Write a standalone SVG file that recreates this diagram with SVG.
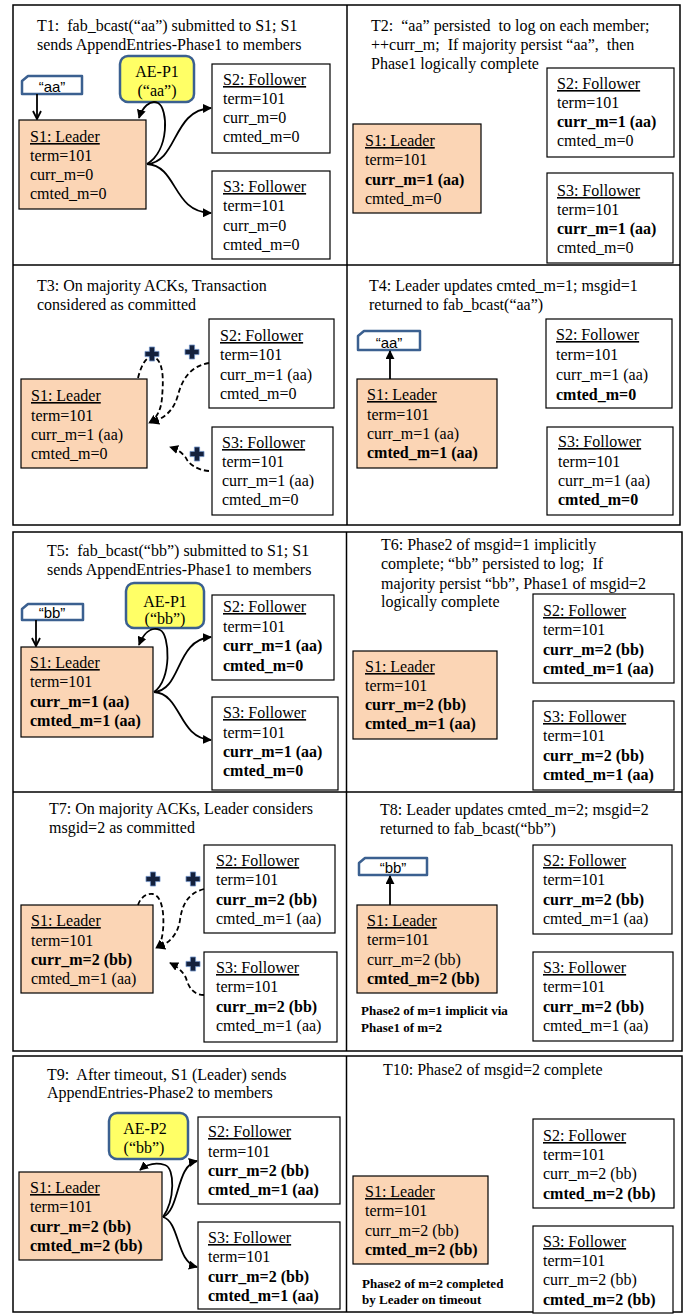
<svg xmlns="http://www.w3.org/2000/svg" width="688" height="1314" viewBox="0 0 688 1314">
<style>
  text { font-family: "Liberation Serif", "Times New Roman", serif; font-size: 16px; fill: #000; }
  .b { font-weight: bold; }
  .u { text-decoration: underline; }
  .c { text-anchor: middle; }
  .note { font-size: 13px; font-weight: bold; }
  .tagtxt { font-family: "Liberation Sans", Arial, sans-serif; font-size: 15px; text-anchor: middle; }
  .frame { fill: none; stroke: #000; stroke-width: 1.5; }
  .ldr { fill: #FBD5B5; stroke: #000; stroke-width: 1.2; }
  .fol { fill: #fff; stroke: #000; stroke-width: 1.2; }
  .msg { fill: #FFFF66; stroke: #3B6090; stroke-width: 2.5; }
  .tag { fill: #fff; stroke: #3B6090; stroke-width: 2.5; stroke-linejoin: round; }
  .conn { fill: none; stroke: #000; stroke-width: 1.8; }
  .dash { stroke-dasharray: 5 3; }
  .ack { fill: #14213d; stroke: #6d8fc4; stroke-width: 0.8; }
</style>
<defs>
  <marker id="ah" viewBox="0 0 10 10" refX="9" refY="5" markerWidth="9" markerHeight="9" markerUnits="userSpaceOnUse" orient="auto">
    <path d="M0,0 L10,5 L0,10 z" fill="#000"/>
  </marker>
  <marker id="av" viewBox="0 0 10 10" refX="9" refY="5" markerWidth="10" markerHeight="10" markerUnits="userSpaceOnUse" orient="auto">
    <path d="M1,1 L9,5 L1,9" fill="none" stroke="#000" stroke-width="1.8"/>
  </marker>
  <!-- ACK marker: a bold plus sign -->
  <path id="plus" class="ack" d="M-2.6,-7 h5.2 v4.4 h4.4 v5.2 h-4.4 v4.4 h-5.2 v-4.4 h-4.4 v-5.2 h4.4 z"/>
</defs>

<rect width="688" height="1314" fill="#fff"/>

<!-- panel frames -->
<g id="frames">
  <rect class="frame" x="13" y="5" width="667" height="520"/>
  <line class="frame" x1="347" y1="5" x2="347" y2="525"/>
  <line class="frame" x1="13" y1="265" x2="680" y2="265"/>
  <rect class="frame" x="13" y="532" width="669" height="519"/>
  <line class="frame" x1="346.5" y1="532" x2="346.5" y2="1051"/>
  <line class="frame" x1="13" y1="792" x2="682" y2="792"/>
  <rect class="frame" x="13" y="1056" width="669" height="256"/>
  <line class="frame" x1="346.5" y1="1056" x2="346.5" y2="1312"/>
</g>

<!-- step captions -->
<g id="captions">
  <text x="37" y="31" xml:space="preserve">T1:  fab_bcast(“aa”) submitted to S1; S1</text>
  <text x="37" y="50">sends AppendEntries-Phase1 to members</text>
  <text x="371" y="31" xml:space="preserve">T2:  “aa” persisted  to log on each member;</text>
  <text x="371" y="50" xml:space="preserve">++curr_m;  If majority persist “aa”,  then</text>
  <text x="371" y="69">Phase1 logically complete</text>
  <text x="37" y="291">T3: On majority ACKs, Transaction</text>
  <text x="37" y="310">considered as committed</text>
  <text x="369" y="291">T4: Leader updates cmted_m=1; msgid=1</text>
  <text x="369" y="310">returned to fab_bcast(“aa”)</text>
  <text x="47" y="556" xml:space="preserve">T5:  fab_bcast(“bb”) submitted to S1; S1</text>
  <text x="47" y="575">sends AppendEntries-Phase1 to members</text>
  <text x="381" y="550">T6: Phase2 of msgid=1 implicitly</text>
  <text x="381" y="569" xml:space="preserve">complete; “bb” persisted to log;  If</text>
  <text x="381" y="589">majority persist “bb”, Phase1 of msgid=2</text>
  <text x="381" y="607">logically complete</text>
  <text x="49" y="814">T7: On majority ACKs, Leader considers</text>
  <text x="49" y="833">msgid=2 as committed</text>
  <text x="380" y="815">T8: Leader updates cmted_m=2; msgid=2</text>
  <text x="380" y="834">returned to fab_bcast(“bb”)</text>
  <text x="47" y="1080" xml:space="preserve">T9:  After timeout, S1 (Leader) sends</text>
  <text x="47" y="1098">AppendEntries-Phase2 to members</text>
  <text x="383" y="1075">T10: Phase2 of msgid=2 complete</text>
  <text class="note" x="361" y="1015">Phase2 of m=1 implicit via</text>
  <text class="note" x="361" y="1032">Phase1 of m=2</text>
  <text class="note" x="362" y="1288">Phase2 of m=2 completed</text>
  <text class="note" x="362" y="1304">by Leader on timeout</text>
</g>

<!-- T1 -->
<g id="t1-tag"><path class="tag" d="M22,81 L28,76 H82 V94 H22 Z"/><text class="tagtxt" x="52" y="92">“aa”</text></g>
<g id="t1-msg"><rect class="msg" x="120" y="56" width="74" height="46" rx="8"/><text class="c" x="157" y="77">AE-P1</text><text class="c" x="157" y="96">(“aa”)</text></g>
<g id="t1-s1"><rect class="ldr" x="19" y="120" width="127" height="89"/>
  <text x="30" y="142" class="u">S1: Leader</text><text x="30" y="161">term=101</text><text x="30" y="180">curr_m=0</text><text x="30" y="199">cmted_m=0</text></g>
<g id="t1-s2"><rect class="fol" x="212" y="64" width="118" height="89"/>
  <text x="223" y="85" class="u">S2: Follower</text><text x="223" y="104">term=101</text><text x="223" y="123">curr_m=0</text><text x="223" y="142">cmted_m=0</text></g>
<g id="t1-s3"><rect class="fol" x="212" y="171" width="118" height="88"/>
  <text x="223" y="192" class="u">S3: Follower</text><text x="223" y="211">term=101</text><text x="223" y="231">curr_m=0</text><text x="223" y="250">cmted_m=0</text></g>

<!-- T2 -->
<g id="t2-s1"><rect class="ldr" x="353" y="124" width="128" height="89"/>
  <text x="365" y="146" class="u">S1: Leader</text><text x="365" y="165">term=101</text><text x="365" y="185" class="b">curr_m=1 (aa)</text><text x="365" y="204">cmted_m=0</text></g>
<g id="t2-s2"><rect class="fol" x="547" y="68" width="127" height="89"/>
  <text x="557" y="89" class="u">S2: Follower</text><text x="557" y="108">term=101</text><text x="557" y="127" class="b">curr_m=1 (aa)</text><text x="557" y="146">cmted_m=0</text></g>
<g id="t2-s3"><rect class="fol" x="547" y="173" width="126" height="90"/>
  <text x="557" y="196" class="u">S3: Follower</text><text x="557" y="215">term=101</text><text x="557" y="234" class="b">curr_m=1 (aa)</text><text x="557" y="253">cmted_m=0</text></g>

<!-- T3 -->
<g id="t3-s1"><rect class="ldr" x="21" y="379" width="126" height="89"/>
  <text x="31" y="401" class="u">S1: Leader</text><text x="31" y="421">term=101</text><text x="31" y="440">curr_m=1 (aa)</text><text x="31" y="459">cmted_m=0</text></g>
<g id="t3-s2"><rect class="fol" x="209" y="319" width="125" height="89"/>
  <text x="220" y="341" class="u">S2: Follower</text><text x="220" y="360">term=101</text><text x="220" y="380">curr_m=1 (aa)</text><text x="220" y="399">cmted_m=0</text></g>
<g id="t3-s3"><rect class="fol" x="212" y="427" width="121" height="88"/>
  <text x="222" y="448" class="u">S3: Follower</text><text x="222" y="467">term=101</text><text x="222" y="486">curr_m=1 (aa)</text><text x="222" y="505">cmted_m=0</text></g>

<!-- T4 -->
<g id="t4-tag"><path class="tag" d="M358,336 L364,331 H420 V350 H358 Z"/><text class="tagtxt" x="389" y="348">“aa”</text></g>
<g id="t4-s1"><rect class="ldr" x="357" y="379" width="140" height="89"/>
  <text x="367" y="400" class="u">S1: Leader</text><text x="367" y="420">term=101</text><text x="367" y="439">curr_m=1 (aa)</text><text x="367" y="458" class="b">cmted_m=1 (aa)</text></g>
<g id="t4-s2"><rect class="fol" x="546" y="319" width="126" height="89"/>
  <text x="556" y="340" class="u">S2: Follower</text><text x="556" y="360">term=101</text><text x="556" y="380">curr_m=1 (aa)</text><text x="556" y="400" class="b">cmted_m=0</text></g>
<g id="t4-s3"><rect class="fol" x="547" y="427" width="126" height="88"/>
  <text x="558" y="447" class="u">S3: Follower</text><text x="558" y="467">term=101</text><text x="558" y="486">curr_m=1 (aa)</text><text x="558" y="505" class="b">cmted_m=0</text></g>

<!-- T5 -->
<g id="t5-tag"><path class="tag" d="M22,609 L28,604 H83 V620 H22 Z"/><text class="tagtxt" x="52" y="618">“bb”</text></g>
<g id="t5-msg"><rect class="msg" x="126" y="583" width="78" height="45" rx="8"/><text class="c" x="165" y="607">AE-P1</text><text class="c" x="165" y="624">(“bb”)</text></g>
<g id="t5-s1"><rect class="ldr" x="21" y="647" width="132" height="90"/>
  <text x="30" y="668" class="u">S1: Leader</text><text x="30" y="687">term=101</text><text x="30" y="707" class="b">curr_m=1 (aa)</text><text x="30" y="726" class="b">cmted_m=1 (aa)</text></g>
<g id="t5-s2"><rect class="fol" x="212" y="595" width="122" height="85"/>
  <text x="223" y="612" class="u">S2: Follower</text><text x="223" y="632">term=101</text><text x="223" y="651" class="b">curr_m=1 (aa)</text><text x="223" y="671" class="b">cmted_m=0</text></g>
<g id="t5-s3"><rect class="fol" x="212" y="697" width="126" height="93"/>
  <text x="223" y="718" class="u">S3: Follower</text><text x="223" y="738">term=101</text><text x="223" y="757" class="b">curr_m=1 (aa)</text><text x="223" y="776" class="b">cmted_m=0</text></g>

<!-- T6 -->
<g id="t6-s1"><rect class="ldr" x="353" y="651" width="144" height="88"/>
  <text x="365" y="672" class="u">S1: Leader</text><text x="365" y="691">term=101</text><text x="365" y="710" class="b">curr_m=2 (bb)</text><text x="365" y="729" class="b">cmted_m=1 (aa)</text></g>
<g id="t6-s2"><rect class="fol" x="533" y="594" width="141" height="89"/>
  <text x="543" y="616" class="u">S2: Follower</text><text x="543" y="635">term=101</text><text x="543" y="655" class="b">curr_m=2 (bb)</text><text x="543" y="674" class="b">cmted_m=1 (aa)</text></g>
<g id="t6-s3"><rect class="fol" x="533" y="701" width="141" height="89"/>
  <text x="543" y="722" class="u">S3: Follower</text><text x="543" y="741">term=101</text><text x="543" y="761" class="b">curr_m=2 (bb)</text><text x="543" y="780" class="b">cmted_m=1 (aa)</text></g>

<!-- T7 -->
<g id="t7-s1"><rect class="ldr" x="21" y="905" width="132" height="88"/>
  <text x="31" y="926" class="u">S1: Leader</text><text x="31" y="946">term=101</text><text x="31" y="965" class="b">curr_m=2 (bb)</text><text x="31" y="984">cmted_m=1 (aa)</text></g>
<g id="t7-s2"><rect class="fol" x="204" y="845" width="131" height="88"/>
  <text x="216" y="866" class="u">S2: Follower</text><text x="216" y="885">term=101</text><text x="216" y="905" class="b">curr_m=2 (bb)</text><text x="216" y="924">cmted_m=1 (aa)</text></g>
<g id="t7-s3"><rect class="fol" x="204" y="952" width="133" height="90"/>
  <text x="216" y="973" class="u">S3: Follower</text><text x="216" y="992">term=101</text><text x="216" y="1012" class="b">curr_m=2 (bb)</text><text x="216" y="1031">cmted_m=1 (aa)</text></g>

<!-- T8 -->
<g id="t8-tag"><path class="tag" d="M359,863 L365,858 H427 V875 H359 Z"/><text class="tagtxt" x="393" y="873">“bb”</text></g>
<g id="t8-s1"><rect class="ldr" x="357" y="905" width="140" height="88"/>
  <text x="367" y="926" class="u">S1: Leader</text><text x="367" y="945">term=101</text><text x="367" y="965">curr_m=2 (bb)</text><text x="367" y="984" class="b">cmted_m=2 (bb)</text></g>
<g id="t8-s2"><rect class="fol" x="533" y="845" width="139" height="89"/>
  <text x="543" y="866" class="u">S2: Follower</text><text x="543" y="885">term=101</text><text x="543" y="905" class="b">curr_m=2 (bb)</text><text x="543" y="924">cmted_m=1 (aa)</text></g>
<g id="t8-s3"><rect class="fol" x="533" y="952" width="140" height="89"/>
  <text x="543" y="973" class="u">S3: Follower</text><text x="543" y="992">term=101</text><text x="543" y="1012" class="b">curr_m=2 (bb)</text><text x="543" y="1031">cmted_m=1 (aa)</text></g>

<!-- T9 -->
<g id="t9-msg"><rect class="msg" x="109" y="1113" width="79" height="46" rx="8"/><text class="c" x="145" y="1134">AE-P2</text><text class="c" x="144" y="1153">(“bb”)</text></g>
<g id="t9-s1"><rect class="ldr" x="19" y="1172" width="143" height="88"/>
  <text x="30" y="1193" class="u">S1: Leader</text><text x="30" y="1212">term=101</text><text x="30" y="1232" class="b">curr_m=2 (bb)</text><text x="30" y="1251" class="b">cmted_m=2 (bb)</text></g>
<g id="t9-s2"><rect class="fol" x="198" y="1117" width="142" height="87"/>
  <text x="208" y="1137" class="u">S2: Follower</text><text x="208" y="1157">term=101</text><text x="208" y="1176" class="b">curr_m=2 (bb)</text><text x="208" y="1195" class="b">cmted_m=1 (aa)</text></g>
<g id="t9-s3"><rect class="fol" x="198" y="1222" width="142" height="87"/>
  <text x="208" y="1243" class="u">S3: Follower</text><text x="208" y="1262">term=101</text><text x="208" y="1282" class="b">curr_m=2 (bb)</text><text x="208" y="1301" class="b">cmted_m=1 (aa)</text></g>

<!-- T10 -->
<g id="t10-s1"><rect class="ldr" x="353" y="1176" width="135" height="88"/>
  <text x="365" y="1197" class="u">S1: Leader</text><text x="365" y="1216">term=101</text><text x="365" y="1236">curr_m=2 (bb)</text><text x="365" y="1255" class="b">cmted_m=2 (bb)</text></g>
<g id="t10-s2"><rect class="fol" x="533" y="1119" width="141" height="89"/>
  <text x="543" y="1141" class="u">S2: Follower</text><text x="543" y="1160">term=101</text><text x="543" y="1179">curr_m=2 (bb)</text><text x="543" y="1199" class="b">cmted_m=2 (bb)</text></g>
<g id="t10-s3"><rect class="fol" x="533" y="1226" width="140" height="87"/>
  <text x="543" y="1247" class="u">S3: Follower</text><text x="543" y="1266">term=101</text><text x="543" y="1285">curr_m=2 (bb)</text><text x="543" y="1305" class="b">cmted_m=2 (bb)</text></g>

<!-- connectors -->
<g id="connectors">
  <!-- T1: submit, AppendEntries fan-out -->
  <path class="conn" d="M37,94 V119" marker-end="url(#av)"/>
  <path class="conn" d="M147,164 C170,150 168,108 158,103 C150,99 142,108 139,118" marker-end="url(#ah)"/>
  <path class="conn" d="M147,164 C178,162 172,110 211,108" marker-end="url(#ah)"/>
  <path class="conn" d="M147,164 C178,166 172,212 211,213" marker-end="url(#ah)"/>
  <!-- T3: ACKs back to leader -->
  <path class="conn dash" d="M138,378 C142,362 148,355 154,357 C165,362 163,385 162,398 C161,410 157,418 149,423" marker-end="url(#ah)"/>
  <path class="conn dash" d="M209,363 C190,366 182,380 178,395 C174,410 165,418 151,423" marker-end="url(#ah)"/>
  <path class="conn dash" d="M209,471 C196,470 188,463 186,458 C182,452 176,449 170,447" marker-end="url(#ah)"/>
  <use href="#plus" x="152" y="354"/>
  <use href="#plus" x="192" y="352"/>
  <use href="#plus" x="197" y="454"/>
  <!-- T4: result returned -->
  <path class="conn" d="M390,379 V351" marker-end="url(#ah)"/>
  <!-- T5 -->
  <path class="conn" d="M36,620 V646" marker-end="url(#av)"/>
  <path class="conn" d="M154,692 C172,680 170,634 160,630 C150,626 143,635 139,645" marker-end="url(#ah)"/>
  <path class="conn" d="M154,692 C182,690 175,640 211,637" marker-end="url(#ah)"/>
  <path class="conn" d="M154,692 C182,694 178,738 211,740" marker-end="url(#ah)"/>
  <!-- T7 -->
  <path class="conn dash" d="M138,905 C141,896 148,893 153,894 C164,897 164,920 163,930 C162,940 160,945 156,948" marker-end="url(#ah)"/>
  <path class="conn dash" d="M204,889 C188,893 182,905 180,920 C178,935 168,944 157,948" marker-end="url(#ah)"/>
  <path class="conn dash" d="M204,995 C192,995 188,985 186,978 C182,970 176,966 170,963" marker-end="url(#ah)"/>
  <use href="#plus" x="153" y="879"/>
  <use href="#plus" x="193" y="879"/>
  <use href="#plus" x="193" y="964"/>
  <!-- T8 -->
  <path class="conn" d="M390,905 V876" marker-end="url(#ah)"/>
  <!-- T9 -->
  <path class="conn" d="M163,1217 C175,1200 175,1168 165,1165 C155,1162 146,1165 140,1170" marker-end="url(#ah)"/>
  <path class="conn" d="M163,1217 C180,1210 176,1165 197,1161" marker-end="url(#ah)"/>
  <path class="conn" d="M163,1217 C180,1222 176,1262 197,1267" marker-end="url(#ah)"/>
</g>
</svg>
